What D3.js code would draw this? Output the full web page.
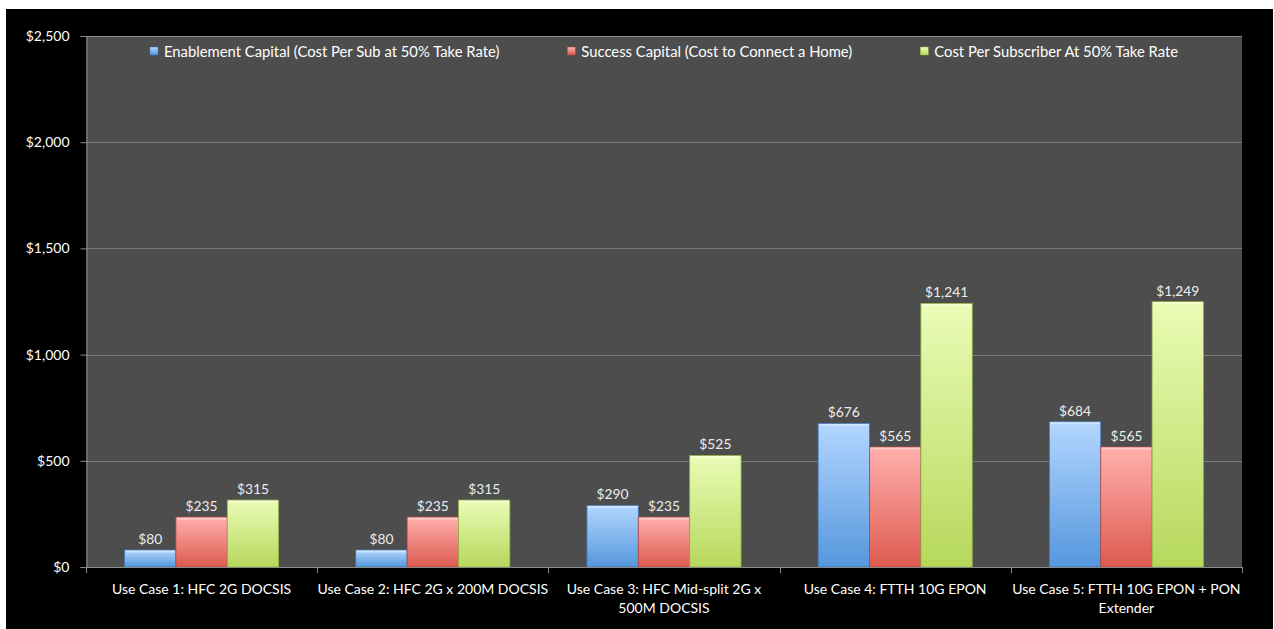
<!DOCTYPE html>
<html>
<head>
<meta charset="utf-8">
<script src="https://cdn.jsdelivr.net/npm/d3@7"></script>
<style>
  html, body { margin: 0; padding: 0; background: #ffffff; }
  svg { display: block; }
  text { font-family: Lato, "Open Sans", sans-serif; }
</style>
</head>
<body>
<svg id="chart" width="1274" height="629"></svg>
<script>
const categories = [
  ["Use Case 1: HFC 2G DOCSIS"],
  ["Use Case 2: HFC 2G x 200M DOCSIS"],
  ["Use Case 3: HFC Mid-split 2G x", "500M DOCSIS"],
  ["Use Case 4: FTTH 10G EPON"],
  ["Use Case 5: FTTH 10G EPON + PON", "Extender"]
];
const seriesNames = [
  "Enablement Capital (Cost Per Sub at 50% Take Rate)",
  "Success Capital (Cost to Connect a Home)",
  "Cost Per Subscriber At 50% Take Rate"
];
const enablement = [80, 80, 290, 676, 684];
const success = [235, 235, 235, 565, 565];
const costPerSub = [315, 315, 525, 1241, 1249];
const yTicks = [0, 500, 1000, 1500, 2000, 2500];

const seriesValues = [enablement, success, costPerSub];
const colors = [
  { top: "#b3d6ff", bottom: "#5597dd", stroke: "#3f77b5", hi: "#d6e9ff" },
  { top: "#ffb0ad", bottom: "#dd5a50", stroke: "#b04840", hi: "#ffd3d1" },
  { top: "#eafcb6", bottom: "#b6d85c", stroke: "#90ad45", hi: "#f5ffd8" }
];

const svg = d3.select("#chart");
const W = 1274, H = 629;
const plot = { left: 86, right: 1242, top: 36, bottom: 567 };

// black background
svg.append("rect").attr("x", 6).attr("y", 9).attr("width", 1267).attr("height", H - 9).attr("fill", "#000");

// gradients
const defs = svg.append("defs");
colors.forEach((c, i) => {
  const g = defs.append("linearGradient").attr("id", "grad" + i)
    .attr("x1", 0).attr("y1", 0).attr("x2", 0).attr("y2", 1);
  g.append("stop").attr("offset", "0%").attr("stop-color", c.top);
  g.append("stop").attr("offset", "100%").attr("stop-color", c.bottom);
});

const x = d3.scaleBand().domain(d3.range(categories.length)).range([plot.left, plot.right]).paddingInner(0).paddingOuter(0);
const bw = x.bandwidth();
const barW = bw / (3 + 1.5);
const xs = d3.scaleBand().domain(d3.range(3)).range([(bw - 3 * barW) / 2, (bw + 3 * barW) / 2]).padding(0);
const y = d3.scaleLinear().domain([0, 2500]).range([plot.bottom, plot.top]);

// plot area
svg.append("rect").attr("x", plot.left).attr("y", plot.top)
  .attr("width", plot.right - plot.left).attr("height", plot.bottom - plot.top)
  .attr("fill", "#4d4d4d");

// gridlines
svg.append("g").selectAll("line").data(yTicks.filter(t => t > 0)).join("line")
  .attr("x1", plot.left).attr("x2", plot.right)
  .attr("y1", d => Math.round(y(d)) + 0.5).attr("y2", d => Math.round(y(d)) + 0.5)
  .attr("stroke", d => d === 2500 ? "#8a8a8a" : "#7a7a7a").attr("stroke-width", 1);

// y axis
const yAxis = d3.axisLeft(y).tickValues(yTicks).tickSize(6).tickPadding(11)
  .tickFormat(d => "$" + d3.format(",")(d));
const gy = svg.append("g").attr("transform", `translate(${plot.left + 0.5},0)`).call(yAxis);
gy.select(".domain").attr("stroke", "#8a8a8a");
gy.selectAll(".tick line").attr("stroke", "#8a8a8a");
gy.selectAll(".tick text").attr("fill", "#ffffff").attr("font-size", 14).attr("font-family", "Lato, 'Open Sans', sans-serif");

// bars
const groups = svg.append("g").selectAll("g").data(categories).join("g")
  .attr("transform", (d, i) => `translate(${x(i)},0)`);

seriesValues.forEach((vals, s) => {
  groups.append("rect")
    .attr("x", (d, i) => xs(s))
    .attr("y", (d, i) => y(vals[i]))
    .attr("width", barW)
    .attr("height", (d, i) => y(0) - y(vals[i]))
    .attr("fill", `url(#grad${s})`)
    .attr("stroke", colors[s].stroke)
    .attr("stroke-width", 0.8);
  groups.append("rect")
    .attr("x", (d, i) => xs(s) + 1)
    .attr("y", (d, i) => y(vals[i]) + 0.5)
    .attr("width", barW - 2)
    .attr("height", 2)
    .attr("fill", colors[s].hi)
    .attr("opacity", 0.8);
  groups.append("text")
    .attr("x", (d, i) => xs(s) + barW / 2)
    .attr("y", (d, i) => y(vals[i]) - 6)
    .attr("text-anchor", "middle")
    .attr("fill", "#ececec")
    .attr("font-size", 13.8)
    .text((d, i) => "$" + d3.format(",")(vals[i]));
});

// x axis
const xAxisLine = svg.append("g");
xAxisLine.append("line").attr("x1", plot.left).attr("x2", plot.right)
  .attr("y1", plot.bottom + 0.5).attr("y2", plot.bottom + 0.5).attr("stroke", "#8a8a8a");
xAxisLine.selectAll("line.tk").data(d3.range(categories.length + 1)).join("line").attr("class", "tk")
  .attr("x1", i => Math.round(plot.left + i * bw) + 0.5).attr("x2", i => Math.round(plot.left + i * bw) + 0.5)
  .attr("y1", plot.bottom).attr("y2", plot.bottom + 6).attr("stroke", "#8a8a8a");

const xl = svg.append("g").selectAll("text").data(categories).join("text")
  .attr("text-anchor", "middle").attr("fill", "#ffffff").attr("font-size", 14)
  .attr("x", (d, i) => x(i) + bw / 2).attr("y", 594);
xl.selectAll("tspan").data(d => d).join("tspan")
  .attr("x", function() { return d3.select(this.parentNode).attr("x"); })
  .attr("dy", (d, j) => j === 0 ? 0 : 19)
  .text(d => d);

// legend
const leg = svg.append("g");
const items = leg.selectAll("g").data(seriesNames).join("g");
items.append("rect").attr("width", 8).attr("height", 8).attr("y", -10)
  .attr("fill", (d, i) => `url(#grad${i})`).attr("stroke", (d, i) => colors[i].stroke).attr("stroke-width", 0.5);
items.append("text").attr("x", 14).attr("y", 0).attr("fill", "#ffffff").attr("font-size", 14.8).text(d => d);
const widths = [];
items.each(function() { widths.push(14 + d3.select(this).select("text").node().getComputedTextLength()); });
const gap = 68;
const total = d3.sum(widths) + gap * (widths.length - 1);
let cx = (plot.left + plot.right) / 2 - total / 2;
items.attr("transform", (d, i) => { const t = `translate(${cx},57)`; cx += widths[i] + gap; return t; });
</script>
</body>
</html>
